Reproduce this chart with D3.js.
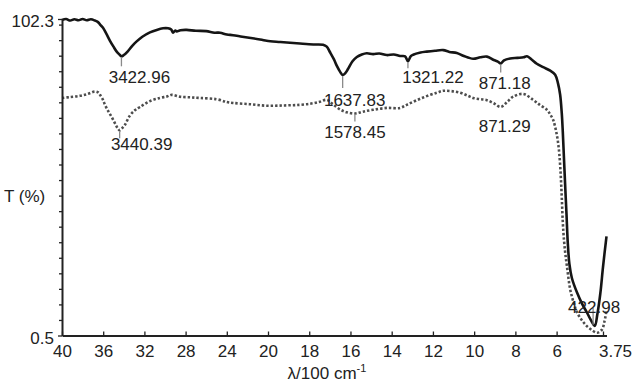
<!DOCTYPE html>
<html>
<head>
<meta charset="utf-8">
<script src="https://cdn.jsdelivr.net/npm/d3@7"></script>
<style>
  body { margin: 0; background: #fff; }
  svg text { font-family: "Liberation Sans", Arial, sans-serif; fill: #222; }
</style>
</head>
<body>
<svg id="chart" width="636" height="386"></svg>
<script>
// x in 100 cm-1, y in T (%)
var solidSeries = [
  [40.0, 102.0], [39.6, 102.3], [39.2, 101.8], [38.8, 102.2], [38.4, 101.9], [38.0, 102.3],
  [37.6, 101.9], [37.2, 102.2], [36.8, 101.8], [36.5, 101.3], [36.3, 100.5], [36.02, 99.5],
  [35.7, 97.6], [35.34, 95.3], [35.0, 93.4], [34.69, 91.8], [34.4, 90.8], [34.23, 90.3],
  [34.0, 90.7], [33.59, 92.0], [33.2, 93.6], [32.75, 95.1], [32.2, 96.6], [31.46, 98.0],
  [30.8, 98.8], [30.19, 99.3], [29.7, 99.3], [29.4, 98.9], [29.22, 97.9], [29.0, 98.6],
  [28.86, 98.3], [28.5, 98.7], [27.89, 98.8], [27.0, 98.5], [26.0, 98.4], [25.2, 97.9],
  [24.66, 97.9], [24.0, 97.3], [23.4, 97.1], [22.5, 96.6], [21.5, 96.1], [20.6, 95.6],
  [20.13, 95.3], [19.4, 94.9], [18.45, 94.4], [17.8, 94.1], [17.33, 94.0], [17.15, 93.4],
  [16.99, 91.6], [16.8, 89.3], [16.66, 87.2], [16.5, 85.3], [16.38, 84.3], [16.25, 84.9],
  [16.12, 86.2], [15.9, 88.7], [15.69, 90.1], [15.45, 90.9], [15.21, 91.3], [14.9, 91.0],
  [14.6, 91.2], [14.24, 90.7], [13.9, 90.9], [13.59, 90.4], [13.35, 90.3], [13.21, 88.7],
  [13.08, 90.3], [12.96, 90.8], [12.6, 91.5], [12.3, 91.8], [11.9, 92.1], [11.5, 92.3],
  [11.2, 91.7], [10.84, 91.4], [10.5, 90.4], [10.05, 89.5], [9.7, 90.0], [9.38, 90.2],
  [9.05, 89.1], [8.85, 88.6], [8.71, 88.0], [8.55, 89.0], [8.25, 89.6], [7.9, 89.8],
  [7.6, 90.0], [7.44, 90.3], [7.2, 89.2], [6.96, 87.9], [6.65, 86.8], [6.31, 85.7],
  [6.07, 84.4], [5.93, 81.5], [5.83, 78.0], [5.75, 72.0], [5.7, 66.0], [5.64, 57.0],
  [5.58, 48.0], [5.52, 39.5], [5.46, 30.5], [5.38, 23.5], [5.26, 19.0], [5.01, 14.3],
  [4.75, 10.5], [4.53, 7.9], [4.35, 5.6], [4.15, 3.6], [4.02, 7.5], [3.88, 14.0],
  [3.75, 22.5], [3.58, 32.4]
];

var dottedSeries = [
  [40.0, 76.9], [39.2, 77.2], [38.25, 77.6], [37.5, 78.2], [36.8, 79.0], [36.5, 78.7],
  [36.31, 77.9], [36.05, 76.5], [35.83, 74.7], [35.5, 72.6], [35.15, 70.6], [34.8, 68.4],
  [34.56, 67.0], [34.4, 66.5], [34.15, 67.2], [33.88, 68.3], [33.4, 71.3], [32.9, 73.0],
  [32.43, 74.0], [31.46, 75.9], [30.49, 76.9], [29.8, 77.4], [29.35, 77.9], [28.54, 77.3],
  [27.5, 77.1], [26.6, 76.9], [25.0, 76.5], [24.0, 75.6], [23.4, 75.3], [21.8, 74.9],
  [20.1, 74.4], [19.2, 74.5], [18.45, 74.7], [17.9, 75.1], [17.48, 75.7], [17.15, 76.3],
  [16.84, 74.8], [16.5, 73.2], [16.18, 72.3], [15.78, 71.9], [15.4, 72.5], [14.9, 73.1],
  [14.24, 73.7], [13.59, 73.7], [13.27, 74.7], [12.78, 76.2], [12.3, 77.5], [11.8, 78.6],
  [11.5, 79.2], [11.1, 79.1], [10.68, 78.6], [10.3, 77.6], [10.05, 76.9], [9.7, 76.5],
  [9.38, 76.2], [9.0, 75.0], [8.71, 74.0], [8.4, 75.6], [8.11, 77.3], [7.62, 78.2],
  [7.14, 76.3], [6.8, 74.6], [6.47, 73.1], [6.3, 71.5], [6.17, 69.9], [6.05, 67.0],
  [5.95, 63.5], [5.87, 59.0], [5.8, 52.0], [5.75, 45.0], [5.7, 37.0], [5.64, 31.0],
  [5.58, 27.0], [5.5, 22.8], [5.34, 15.3], [5.17, 11.0], [5.01, 7.9], [4.75, 5.2],
  [4.53, 3.5], [4.28, 2.2], [4.04, 1.4], [3.8, 2.4], [3.68, 5.0], [3.58, 8.5]
];

var xTicks = [40, 36, 32, 28, 24, 20, 18, 16, 14, 12, 10, 8, 6, 3.75];
var yMinorTicks = [5.5, 10.5, 15.5, 20.5, 25.5, 30.5, 35.5, 40.5, 45.5, 50.5,
  55.5, 60.5, 65.5, 70.5, 75.5, 80.5, 85.5, 90.5, 95.5, 100.5];
var yLabelTicks = [0.5, 102.3];

// peak wavenumbers (cm-1) and which curve they sit on
var peakWn = [3422.96, 3440.39, 1637.83, 1578.45, 1321.22, 871.18, 871.29, 422.98];
var peakSeries = ['solid', 'dotted', 'solid', 'dotted', 'solid', 'solid', 'dotted', 'solid'];

// label placement (pixels): dx of label centre, dy of baseline, marker length
var peakLayout = [
  { dx: 18, dy: 27, mark: 10 },
  { dx: 22, dy: 20, mark: 8 },
  { dx: 12, dy: 31, mark: 13 },
  { dx: 0, dy: 24, mark: 8 },
  { dx: 25, dy: 22, mark: 7 },
  { dx: 4, dy: 26, mark: 9 },
  { dx: 4, dy: 25, mark: 0 },
  { dx: 1, dy: -13, mark: -18 }
];

var svg = d3.select('#chart');

// expanded scale below 2000 cm-1
var x = d3.scaleLinear().domain([40, 20, 3.58]).range([62, 268, 606.5]);
var y = d3.scaleLinear().domain([0.5, 102.3]).range([335.5, 19]);

var line = d3.line()
  .x(function (d) { return x(d[0]); })
  .y(function (d) { return y(d[1]); })
  .curve(d3.curveCatmullRom.alpha(0.5));

svg.append('path')
  .datum(dottedSeries)
  .attr('d', line)
  .attr('fill', 'none')
  .attr('stroke', '#4d4d4d')
  .attr('stroke-width', 2.6)
  .attr('stroke-dasharray', '2.4,2');

svg.append('path')
  .datum(solidSeries)
  .attr('d', line)
  .attr('fill', 'none')
  .attr('stroke', '#151515')
  .attr('stroke-width', 2.6)
  .attr('stroke-linejoin', 'round');

// x axis
var xAxis = svg.append('g')
  .attr('transform', 'translate(0,' + y(0.5) + ')')
  .call(d3.axisBottom(x).tickValues(xTicks).tickSize(-4).tickSizeOuter(0)
    .tickFormat(function (d) { return d === 3.75 ? '3.75' : d3.format('d')(d); }));
xAxis.select('.domain').attr('stroke', '#222').attr('stroke-width', 2);
xAxis.selectAll('.tick line').attr('stroke', '#222').attr('stroke-width', 1.3);
xAxis.selectAll('.tick text')
  .attr('font-size', 17)
  .attr('y', 9)
  .attr('dx', function (d) { return d === 3.75 ? 12 : 0; });

// y axis: minor ticks
var yAxis = svg.append('g')
  .attr('transform', 'translate(' + x(40) + ',0)')
  .call(d3.axisLeft(y).tickValues(yMinorTicks).tickSize(3).tickSizeOuter(0).tickFormat(''));
yAxis.select('.domain').attr('stroke', '#222').attr('stroke-width', 2);
yAxis.selectAll('.tick line').attr('stroke', '#222').attr('stroke-width', 1.3);

var yEnds = svg.append('g')
  .attr('transform', 'translate(' + x(40) + ',0)')
  .call(d3.axisLeft(y).tickValues(yLabelTicks).tickSize(4).tickPadding(4)
    .tickFormat(d3.format('.1f')));
yEnds.select('.domain').remove();
yEnds.selectAll('.tick line').attr('stroke', '#222').attr('stroke-width', 1.3);
yEnds.selectAll('.tick text')
  .attr('font-size', 17)
  .attr('dy', function (d) { return d === 0.5 ? '0.45em' : '0.42em'; });

// axis titles
svg.append('text')
  .attr('x', 4).attr('y', 202)
  .attr('font-size', 17)
  .text('T (%)');

var xt = svg.append('text')
  .attr('x', 327).attr('y', 379)
  .attr('text-anchor', 'middle')
  .attr('font-size', 17);
xt.append('tspan').text('\u03bb/100 cm');
xt.append('tspan').attr('font-size', 11).attr('dy', -7).text('-1');

// peak markers and labels
function valueAt(series, v) {
  var best = series[0];
  series.forEach(function (d) {
    if (Math.abs(d[0] - v) < Math.abs(best[0] - v)) best = d;
  });
  return best[1];
}

var peaks = svg.append('g');
peakWn.forEach(function (wn, i) {
  var series = peakSeries[i] === 'solid' ? solidSeries : dottedSeries;
  var px = x(wn / 100);
  var py = y(valueAt(series, wn / 100));
  var lay = peakLayout[i];
  if (lay.mark !== 0) {
    peaks.append('line')
      .attr('x1', px).attr('x2', px)
      .attr('y1', py + (lay.mark > 0 ? 1 : -1)).attr('y2', py + lay.mark)
      .attr('stroke', '#8a8a8a').attr('stroke-width', 1.3);
  }
  peaks.append('text')
    .attr('x', px + lay.dx).attr('y', py + lay.dy)
    .attr('text-anchor', 'middle')
    .attr('font-size', 17)
    .text(wn.toFixed(2));
});
</script>
</body>
</html>
